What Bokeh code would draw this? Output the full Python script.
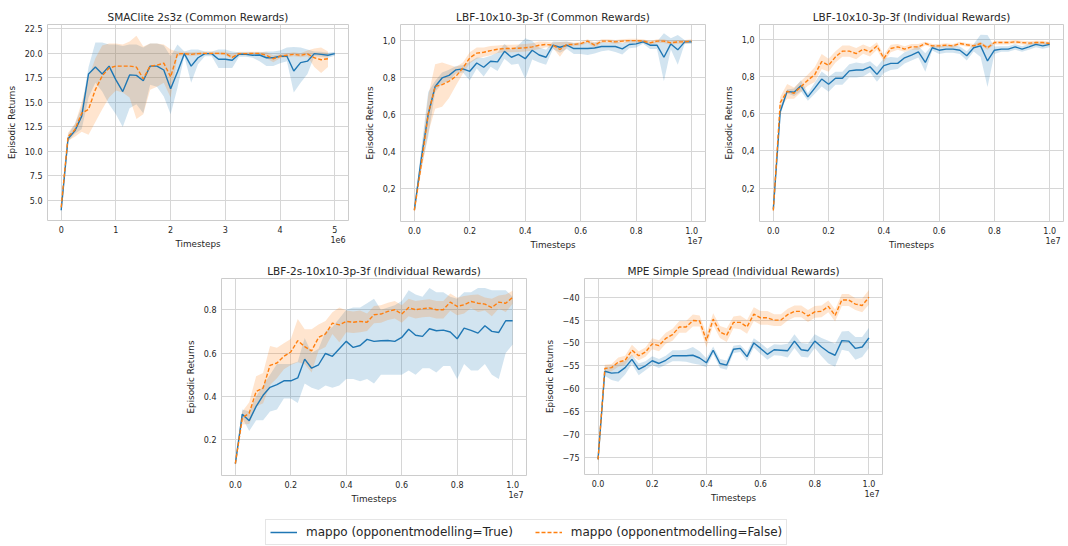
from bokeh.plotting import figure
from bokeh.layouts import column, row, Spacer
from bokeh.models import (FixedTicker, CustomJSTickFormatter, Legend, LinearAxis,
                          LegendItem, Range1d)
from bokeh.embed import file_html
from bokeh.resources import INLINE

# ---------------- data ----------------
smac_steps = [0, 125000, 250000, 375000, 500000, 625000, 750000, 875000, 1000000,
              1125000, 1250000, 1375000, 1500000, 1625000, 1750000, 1875000, 2000000,
              2125000, 2250000, 2375000, 2500000, 2625000, 2750000, 2875000, 3000000,
              3125000, 3250000, 3375000, 3500000, 3625000, 3750000, 3875000, 4000000,
              4125000, 4250000, 4375000, 4500000, 4625000, 4750000, 4875000, 5000000]
lbf_steps = [0, 250000, 500000, 750000, 1000000, 1250000, 1500000, 1750000, 2000000,
             2250000, 2500000, 2750000, 3000000, 3250000, 3500000, 3750000, 4000000,
             4250000, 4500000, 4750000, 5000000, 5250000, 5500000, 5750000, 6000000,
             6250000, 6500000, 6750000, 7000000, 7250000, 7500000, 7750000, 8000000,
             8250000, 8500000, 8750000, 9000000, 9250000, 9500000, 9750000, 10000000]

# SMAClite 2s3z (Common Rewards)
smac_true_mean = [4.0, 11.3, 12.1, 13.6, 17.9, 18.6, 17.9, 18.7, 17.3, 16.1, 17.8, 17.75, 17.2,
                  18.7, 18.7, 18.3, 16.4, 18.1, 19.97, 18.7, 19.55, 19.97, 19.97, 19.4, 19.4,
                  19.3, 19.9, 19.9, 19.8, 19.83, 19.55, 19.55, 19.7, 19.7, 18.2, 19.05, 19.2,
                  19.97, 19.9, 19.8, 19.97]
smac_true_lo = [3.8, 11.0, 11.8, 12.3, 15.5, 17.0, 16.1, 14.8, 13.8, 12.5, 14.4, 14.8, 13.9,
                16.8, 16.6, 15.6, 13.8, 16.5, 19.7, 17.0, 18.9, 19.7, 19.7, 18.5, 18.5, 18.5,
                19.65, 19.65, 19.55, 19.2, 18.7, 18.7, 19.0, 19.2, 16.0, 17.0, 17.9, 19.7,
                19.65, 19.55, 19.75]
smac_true_hi = [4.3, 11.7, 12.8, 14.5, 18.6, 21.1, 21.1, 20.9, 20.9, 20.75, 20.9, 20.9, 20.6,
                21.0, 21.0, 20.8, 19.7, 20.9, 20.2, 20.4, 20.4, 20.2, 20.2, 20.4, 20.4, 20.2,
                20.1, 20.1, 20.1, 20.1, 20.2, 20.2, 20.3, 20.6, 20.65, 20.6, 20.4, 20.2,
                20.15, 20.05, 20.15]
smac_false_mean = [4.3, 11.5, 12.2, 13.9, 14.3, 16.3, 17.7, 18.5, 18.7, 18.7, 18.7, 18.6, 17.4,
                   18.7, 18.8, 19.0, 17.6, 19.95, 19.97, 19.9, 19.97, 20.0, 20.0, 20.0, 19.97,
                   19.6, 19.97, 19.97, 20.0, 20.0, 19.8, 19.45, 19.7, 19.8, 19.9, 19.8, 19.95,
                   19.55, 19.35, 19.45]
smac_false_lo = [4.1, 11.1, 11.5, 12.0, 11.7, 13.0, 14.3, 15.5, 16.2, 16.0, 15.5, 13.3, 13.8,
                 16.3, 16.6, 17.0, 15.5, 19.7, 19.8, 19.7, 19.8, 19.85, 19.85, 19.85, 19.8,
                 19.4, 19.8, 19.8, 19.85, 19.85, 19.5, 19.1, 19.5, 19.6, 19.7, 19.6, 19.7,
                 18.6, 18.0, 18.6]
smac_false_hi = [4.6, 11.9, 12.8, 15.0, 17.5, 19.5, 20.8, 21.0, 21.0, 20.9, 21.2, 21.8, 20.7,
                 21.0, 21.0, 20.9, 20.4, 20.2, 20.15, 20.1, 20.15, 20.15, 20.15, 20.15, 20.15,
                 19.9, 20.15, 20.15, 20.15, 20.15, 20.1, 19.8, 19.9, 20.0, 20.1, 20.0, 20.3,
                 20.5, 20.6, 20.2]

# LBF-10x10-3p-3f (Common Rewards)
lbfc_true_mean = [0.083, 0.36, 0.6, 0.75, 0.796, 0.81, 0.84, 0.845, 0.832, 0.877, 0.854, 0.886,
                  0.883, 0.94, 0.908, 0.923, 0.9, 0.946, 0.92, 0.908, 0.973, 0.962, 0.973,
                  0.955, 0.955, 0.955, 0.958, 0.966, 0.966, 0.966, 0.953, 0.977, 0.98, 0.991,
                  0.973, 0.973, 0.908, 0.98, 0.948, 0.991, 0.991]
lbfc_true_err = [0.01, 0.05, 0.12, 0.03, 0.03, 0.03, 0.02, 0.02, 0.05, 0.03, 0.05, 0.03, 0.05,
                 0.04, 0.04, 0.05, 0.11, 0.05, 0.04, 0.04, 0.02, 0.03, 0.02, 0.03, 0.03, 0.035,
                 0.03, 0.025, 0.02, 0.03, 0.03, 0.02, 0.02, 0.01, 0.02, 0.02, 0.13, 0.03, 0.08,
                 0.01, 0.01]
lbfc_false_mean = [0.08, 0.33, 0.6, 0.75, 0.76, 0.778, 0.805, 0.85, 0.905, 0.93, 0.935, 0.944,
                   0.951, 0.955, 0.955, 0.957, 0.959, 0.964, 0.973, 0.977, 0.973, 0.95, 0.977,
                   0.977, 0.982, 0.995, 0.973, 0.995, 0.995, 0.991, 0.995, 0.998, 0.998, 0.995,
                   0.986, 0.995, 0.995, 0.986, 0.991, 0.991, 0.995]
lbfc_false_err = [0.01, 0.04, 0.1, 0.12, 0.12, 0.09, 0.05, 0.03, 0.03, 0.03, 0.025, 0.025, 0.02,
                  0.02, 0.02, 0.02, 0.02, 0.02, 0.02, 0.015, 0.015, 0.04, 0.015, 0.01, 0.01,
                  0.01, 0.015, 0.01, 0.01, 0.01, 0.01, 0.01, 0.01, 0.01, 0.01, 0.01, 0.01, 0.01,
                  0.01, 0.01, 0.01]

# LBF-10x10-3p-3f (Individual Rewards)
lbfi_true_mean = [0.087, 0.61, 0.72, 0.715, 0.75, 0.69, 0.737, 0.786, 0.758, 0.79, 0.79, 0.83,
                  0.835, 0.835, 0.852, 0.811, 0.858, 0.87, 0.87, 0.9, 0.915, 0.932, 0.875,
                  0.954, 0.941, 0.947, 0.947, 0.941, 0.911, 0.954, 0.964, 0.883, 0.941, 0.947,
                  0.947, 0.959, 0.947, 0.959, 0.972, 0.964, 0.972]
lbfi_true_err = [0.01, 0.02, 0.01, 0.02, 0.03, 0.02, 0.03, 0.04, 0.04, 0.035, 0.035, 0.035, 0.04,
                 0.035, 0.03, 0.04, 0.04, 0.035, 0.03, 0.03, 0.03, 0.03, 0.05, 0.015, 0.02,
                 0.02, 0.02, 0.02, 0.025, 0.02, 0.06, 0.14, 0.02, 0.015, 0.015, 0.015, 0.015,
                 0.015, 0.015, 0.015, 0.015]
lbfi_false_mean = [0.08, 0.66, 0.72, 0.71, 0.745, 0.78, 0.81, 0.88, 0.86, 0.905, 0.936, 0.936,
                   0.923, 0.947, 0.932, 0.964, 0.897, 0.95, 0.959, 0.947, 0.959, 0.959, 0.977,
                   0.964, 0.964, 0.968, 0.964, 0.977, 0.97, 0.964, 0.977, 0.954, 0.982, 0.982,
                   0.982, 0.986, 0.982, 0.979, 0.982, 0.982, 0.977]
lbfi_false_err = [0.01, 0.03, 0.04, 0.03, 0.03, 0.03, 0.04, 0.04, 0.035, 0.03, 0.03, 0.03, 0.03,
                  0.025, 0.025, 0.02, 0.02, 0.02, 0.015, 0.015, 0.015, 0.015, 0.01, 0.01, 0.01,
                  0.01, 0.01, 0.01, 0.01, 0.01, 0.01, 0.01, 0.01, 0.01, 0.01, 0.01, 0.01, 0.01,
                  0.01, 0.01, 0.01]

# LBF-2s-10x10-3p-3f (Individual Rewards)
lbf2s_true_mean = [0.09, 0.318, 0.288, 0.354, 0.405, 0.442, 0.454, 0.472, 0.472, 0.485, 0.572,
                   0.53, 0.546, 0.598, 0.585, 0.62, 0.654, 0.626, 0.635, 0.663, 0.654, 0.657,
                   0.658, 0.654, 0.672, 0.71, 0.682, 0.677, 0.712, 0.703, 0.706, 0.697, 0.666,
                   0.715, 0.705, 0.692, 0.726, 0.7, 0.695, 0.749, 0.749]
lbf2s_true_lo = [0.085, 0.30, 0.24, 0.29, 0.29, 0.33, 0.34, 0.39, 0.39, 0.37, 0.46, 0.44, 0.43,
                 0.45, 0.44, 0.45, 0.48, 0.48, 0.47, 0.48, 0.46, 0.50, 0.50, 0.50, 0.50, 0.52,
                 0.50, 0.53, 0.53, 0.51, 0.54, 0.54, 0.48, 0.55, 0.52, 0.52, 0.55, 0.50, 0.48,
                 0.60, 0.64]
lbf2s_true_hi = [0.095, 0.34, 0.33, 0.40, 0.45, 0.50, 0.55, 0.55, 0.55, 0.56, 0.67, 0.60, 0.62,
                 0.70, 0.72, 0.76, 0.80, 0.81, 0.81, 0.83, 0.85, 0.80, 0.81, 0.82, 0.84, 0.89,
                 0.87, 0.86, 0.90, 0.88, 0.88, 0.86, 0.85, 0.88, 0.88, 0.90, 0.90, 0.89, 0.89,
                 0.89, 0.86]
lbf2s_false_mean = [0.09, 0.3, 0.323, 0.423, 0.438, 0.543, 0.554, 0.585, 0.605, 0.657, 0.63,
                    0.61, 0.672, 0.688, 0.738, 0.73, 0.746, 0.742, 0.746, 0.742, 0.777, 0.78,
                    0.792, 0.8, 0.78, 0.81, 0.8, 0.805, 0.808, 0.8, 0.8, 0.835, 0.815, 0.823,
                    0.838, 0.83, 0.826, 0.81, 0.835, 0.83, 0.857]
lbf2s_false_err = [0.01, 0.03, 0.05, 0.07, 0.07, 0.09, 0.07, 0.06, 0.06, 0.1, 0.08, 0.1, 0.06,
                   0.06, 0.05, 0.08, 0.05, 0.05, 0.05, 0.04, 0.04, 0.04, 0.04, 0.04, 0.04, 0.04,
                   0.04, 0.04, 0.04, 0.04, 0.04, 0.04, 0.04, 0.04, 0.03, 0.04, 0.03, 0.04, 0.03,
                   0.04, 0.03]

# MPE Simple Spread (Individual Rewards)
mpe_true_mean = [-75.5, -56.2, -56.6, -56.5, -55.4, -53.6, -55.8, -55.0, -53.9, -54.5, -53.8,
                 -52.8, -52.8, -52.8, -52.7, -53.3, -54.35, -51.6, -54.5, -54.85, -51.4, -51.2,
                 -53.0, -50.0, -51.2, -52.5, -51.5, -51.6, -51.7, -49.6, -51.5, -51.7, -49.6,
                 -50.9, -52.0, -52.7, -49.5, -49.6, -51.2, -50.9, -48.9]
mpe_true_err = [0.6, 1.0, 1.5, 2.0, 1.5, 1.0, 1.3, 1.0, 1.0, 1.0, 1.0, 1.2, 1.2, 1.3, 1.8, 1.5,
                1.0, 0.8, 1.0, 1.0, 0.8, 0.8, 1.0, 1.0, 1.2, 1.2, 1.2, 1.2, 1.5, 1.5, 1.5, 1.5,
                1.5, 2.0, 2.5, 2.5, 2.0, 2.2, 2.5, 2.2, 2.2]
mpe_false_mean = [-75.5, -55.6, -55.4, -54.2, -53.8, -51.6, -52.8, -52.0, -50.2, -50.6, -49.0,
                  -48.2, -46.5, -46.5, -45.1, -45.2, -49.5, -44.8, -47.6, -48.3, -45.5, -45.5,
                  -46.5, -43.7, -44.5, -44.5, -45.0, -45.0, -43.8, -43.1, -43.1, -44.1, -43.2,
                  -43.1, -42.0, -44.0, -40.6, -40.6, -41.5, -41.8, -40.0]
mpe_false_err = [0.6, 0.8, 0.8, 1.0, 1.0, 1.2, 1.0, 1.0, 1.2, 1.2, 1.2, 1.3, 1.3, 1.3, 1.3, 1.2,
                 1.5, 1.3, 1.3, 1.5, 1.3, 1.5, 1.5, 1.5, 1.5, 1.5, 1.3, 1.3, 1.3, 1.3, 1.3, 1.3,
                 1.3, 1.3, 1.3, 1.3, 1.3, 1.3, 1.3, 1.5, 1.6]

series_labels = ["mappo (opponentmodelling=True)", "mappo (opponentmodelling=False)"]
smac_xticks = [0, 1000000, 2000000, 3000000, 4000000, 5000000]
lbf_xticks = [0, 2000000, 4000000, 6000000, 8000000, 10000000]
smac_yticks = [5.0, 7.5, 10.0, 12.5, 15.0, 17.5, 20.0, 22.5]
lbf_yticks = [0.2, 0.4, 0.6, 0.8, 1.0]
lbf2s_yticks = [0.2, 0.4, 0.6, 0.8]
mpe_yticks = [-75, -70, -65, -60, -55, -50, -45, -40]

# ---------------- styling ----------------
BLUE = "#1f77b4"
ORANGE = "#ff7f0e"
TEXT = "#262626"
GRID = "#d6d6d6"
FONT = "DejaVu Sans"


def band(mean, err):
    lo = [m - e for m, e in zip(mean, err)]
    hi = [m + e for m, e in zip(mean, err)]
    return lo, hi


def style_axis(ax):
    ax.axis_line_color = None
    ax.major_tick_line_color = None
    ax.minor_tick_line_color = None
    ax.major_tick_out = 0
    ax.major_tick_in = 0
    ax.minor_tick_out = 0
    ax.minor_tick_in = 0
    ax.major_label_text_font = FONT
    ax.major_label_text_font_size = "8px"
    ax.major_label_text_color = TEXT
    ax.axis_label_text_font = FONT
    ax.axis_label_text_font_size = "8.8px"
    ax.axis_label_text_font_style = "normal"
    ax.axis_label_text_color = TEXT


def panel(title, xs_t, mean_t, lo_t, hi_t, xs_f, mean_f, lo_f, hi_f,
          xr, yr, xticks, xdiv, xdigits, xexp, yticks, ycode,
          fw, fh, bl, br, bt, bb):
    p = figure(frame_width=fw, frame_height=fh,
               min_border_left=bl, min_border_right=br,
               min_border_top=bt, min_border_bottom=bb,
               x_range=Range1d(*xr), y_range=Range1d(*yr),
               output_backend="svg", toolbar_location=None, title=title)
    p.title.align = "center"
    p.title.text_font = FONT
    p.title.text_font_size = "10.5px"
    p.title.text_font_style = "normal"
    p.title.text_color = TEXT
    p.title.standoff = 4
    p.outline_line_color = "#cccccc"
    p.outline_line_width = 1
    p.background_fill_color = "white"
    p.border_fill_color = "white"

    xt = FixedTicker(ticks=xticks)
    yt = FixedTicker(ticks=yticks)
    p.xaxis.ticker = xt
    p.yaxis.ticker = yt
    p.xgrid.ticker = xt
    p.ygrid.ticker = yt
    p.xaxis.formatter = CustomJSTickFormatter(
        code="return (tick/%s).toFixed(%d);" % (xdiv, xdigits))
    p.yaxis.formatter = CustomJSTickFormatter(code=ycode)
    style_axis(p.xaxis[0])
    style_axis(p.yaxis[0])
    p.xaxis.axis_label = "Timesteps"
    p.yaxis.axis_label = "Episodic Returns"
    p.xaxis.major_label_standoff = 5
    p.xaxis.axis_label_standoff = 3
    p.yaxis.major_label_standoff = 5
    p.yaxis.axis_label_standoff = 5
    p.grid.grid_line_color = GRID
    p.grid.grid_line_width = 1

    p.varea(x=xs_t, y1=lo_t, y2=hi_t, fill_color=BLUE, fill_alpha=0.2)
    p.varea(x=xs_f, y1=lo_f, y2=hi_f, fill_color=ORANGE, fill_alpha=0.2)
    p.line(x=xs_t, y=mean_t, line_color=BLUE, line_width=1.4)
    p.line(x=xs_f, y=mean_f, line_color=ORANGE, line_width=1.4, line_dash="4 2")

    # offset text ("1e6" / "1e7"): a label-only axis stacked under the main
    # x axis, pulled up beside the "Timesteps" label, ending near the frame's right edge
    off_axis = LinearAxis(
        ticker=FixedTicker(ticks=[xr[1] - (10.5 / fw) * (xr[1] - xr[0])]),
        formatter=CustomJSTickFormatter(code="return '%s';" % xexp))
    style_axis(off_axis)
    off_axis.major_label_standoff = -16
    p.add_layout(off_axis, "below")
    return p


fmt1 = "return tick.toFixed(1);"
fmt_comma = "return tick.toFixed(1).replace('.', ',');"
fmt_minus = "return (tick < 0 ? '\\u2212' : '') + Math.abs(tick).toFixed(0);"

lx = (-0.05e7, 1.05e7)

p1 = panel("SMAClite 2s3z (Common Rewards)",
           smac_steps, smac_true_mean, smac_true_lo, smac_true_hi,
           smac_steps[:len(smac_false_mean)], smac_false_mean, smac_false_lo, smac_false_hi,
           (-0.25e6, 5.25e6), (2.96, 22.94), smac_xticks, "1e6", 0, "1e6",
           smac_yticks, fmt1, 301, 196, 47, 7, 24, 35)

lo, hi = band(lbfc_true_mean, lbfc_true_err)
lo2, hi2 = band(lbfc_false_mean, lbfc_false_err)
p2 = panel("LBF-10x10-3p-3f (Common Rewards)",
           lbf_steps, lbfc_true_mean, lo, hi, lbf_steps, lbfc_false_mean, lo2, hi2,
           lx, (0.02, 1.085), lbf_xticks, "1e7", 1, "1e7",
           lbf_yticks, fmt_comma, 305, 197, 45, 5, 22, 36)

lo, hi = band(lbfi_true_mean, lbfi_true_err)
lo2, hi2 = band(lbfi_false_mean, lbfi_false_err)
p3 = panel("LBF-10x10-3p-3f (Individual Rewards)",
           lbf_steps, lbfi_true_mean, lo, hi, lbf_steps, lbfi_false_mean, lo2, hi2,
           lx, (0.021, 1.079), lbf_xticks, "1e7", 1, "1e7",
           lbf_yticks, fmt_comma, 304, 197, 49, 5, 22, 36)

lo2, hi2 = band(lbf2s_false_mean, lbf2s_false_err)
p4 = panel("LBF-2s-10x10-3p-3f (Individual Rewards)",
           lbf_steps, lbf2s_true_mean, lbf2s_true_lo, lbf2s_true_hi,
           lbf_steps, lbf2s_false_mean, lo2, hi2,
           lx, (0.035, 0.944), lbf_xticks, "1e7", 1, "1e7",
           lbf2s_yticks, fmt1, 305, 197, 46, 4, 22, 36)

lo, hi = band(mpe_true_mean, mpe_true_err)
lo2, hi2 = band(mpe_false_mean, mpe_false_err)
p5 = panel("MPE Simple Spread (Individual Rewards)",
           lbf_steps, mpe_true_mean, lo, hi, lbf_steps, mpe_false_mean, lo2, hi2,
           lx, (-78.8, -35.9), lbf_xticks, "1e7", 1, "1e7",
           mpe_yticks, fmt_minus, 298, 196, 54, 8, 23, 36)

# ---------------- legend strip ----------------
# The legend's own renderers reuse the SMAClite series; their values lie far
# outside this strip's 0..1 ranges, so only the legend glyphs are visible.
leg = figure(width=1068, height=36, min_border=0, output_backend="svg",
             toolbar_location=None, x_range=Range1d(0, 1), y_range=Range1d(0, 1),
             x_axis_location=None, y_axis_location=None)
leg.outline_line_color = None
leg.grid.visible = False
r_true = leg.line(x=smac_steps, y=smac_true_mean, line_color=BLUE, line_width=1.5)
r_false = leg.line(x=smac_steps[:len(smac_false_mean)], y=smac_false_mean,
                   line_color=ORANGE, line_width=1.5, line_dash="4 2")
legend = Legend(items=[LegendItem(label=series_labels[0], renderers=[r_true]),
                       LegendItem(label=series_labels[1], renderers=[r_false])],
                orientation="horizontal", location=(265, 1))
legend.label_text_font = FONT
legend.label_text_font_size = "12px"
legend.label_text_color = TEXT
legend.border_line_color = "#cccccc"
legend.border_line_width = 1
legend.background_fill_color = "white"
legend.background_fill_alpha = 1
legend.padding = 4
legend.spacing = 22
legend.margin = 0
legend.glyph_width = 27
legend.glyph_height = 16
legend.label_height = 16
legend.label_standoff = 9
leg.add_layout(legend)

layout = column(row(p1, p2, p3),
                row(Spacer(width=175, height=255), p4, p5),
                leg)

open("out.html", "w").write(file_html(layout, INLINE))
